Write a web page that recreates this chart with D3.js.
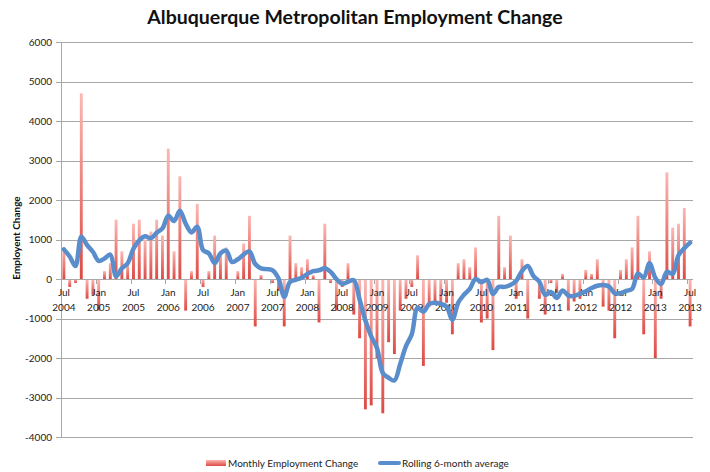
<!DOCTYPE html>
<html>
<head>
<meta charset="utf-8">
<script src="https://cdn.jsdelivr.net/npm/d3@7"></script>
<style>
  body { margin: 0; background: #fff; }
  text { font-family: Lato, "Open Sans", sans-serif; }
</style>
</head>
<body>
<div id="chart"></div>
<script>
// monthly change, Jul 2004 .. Jul 2013
var monthly = [
  800, -200, -100, 4700, -500, -400,
  -800, 200, 400, 1500, 700, 400,
  1400, 1500, 1000, 1200, 1500, 1100,
  3300, 700, 2600, -800, 200, 1900,
  -200, 200, 1100, 700, 800, 0,
  200, 900, 1600, -1200, 100, 0,
  -100, -300, -1200, 1100, 400, 300,
  500, 100, -1100, 1400, -100, -800,
  -200, 400, -900, -1500, -3300, -3200,
  -2000, -3400, -1600, -1900, -800, -500,
  -200, 600, -2200, -700, -600, -700,
  -600, -1400, 400, 500, 300, 800,
  -1100, -1000, -1800, 1600, 300, 1100,
  -500, 500, -1000, 0, -500, -900,
  -100, -350, 130, -800, -570, -500,
  230, 130, 500, -700, -800, -1500,
  230, 500, 800, 1600, -1400, 700,
  -2000, -500, 2700, 1300, 1400, 1800,
  -1200
];

// rolling 6-month average as drawn
var rolling = [
  750, 570, 330, 1070, 860, 690,
  460, 520, 620, 70, 270, 400,
  770, 980, 1080, 1030, 1170, 1280,
  1600, 1470, 1730, 1400, 1180, 1320,
  730, 650, 400, 650, 720, 430,
  500, 620, 700, 380, 270, 250,
  220, 20, -450, -70, -20, 30,
  130, 200, 220, 270, 180, 0,
  -120, -70, -30, -520, -1050, -1450,
  -1750, -2380, -2500, -2570, -2150, -1700,
  -1400, -730, -830, -630, -600, -630,
  -700, -1030, -600, -400, -250, 0,
  -80, -20, -380, -200, -200, -150,
  -50, 200, 330, 70, -70, -400,
  -330, -480, -290, -420, -430, -370,
  -310, -230, -170, -150, -190, -360,
  -360, -300, -250, 140, 40, 400,
  30, -130, 180, 130, 600, 780,
  920
];

var yTicks = [-4000, -3000, -2000, -1000, 0, 1000, 2000, 3000, 4000, 5000, 6000];
var firstMonth = new Date(2004, 6, 1);
var seriesNames = ["Monthly Employment Change", "Rolling 6-month average"];

function draw() {
  var width = 710, height = 472;
  var plotLeft = 61, plotRight = 693, plotTop = 42, plotBottom = 437;

  var months = d3.timeMonth.range(firstMonth, d3.timeMonth.offset(firstMonth, monthly.length));

  var x = d3.scaleBand()
    .domain(months)
    .range([plotLeft, plotRight])
    .paddingInner(0.5)
    .paddingOuter(0.25);

  var y = d3.scaleLinear()
    .domain([-4000, 6000])
    .range([plotBottom, plotTop]);

  var svg = d3.select("#chart").append("svg")
    .attr("width", width)
    .attr("height", height);

  var grad = svg.append("defs").append("linearGradient")
    .attr("id", "barFill")
    .attr("x1", 0).attr("y1", 0).attr("x2", 0).attr("y2", 1);
  grad.append("stop").attr("offset", "0%").attr("stop-color", "#fbb8b3");
  grad.append("stop").attr("offset", "100%").attr("stop-color", "#de4a44");

  // gridlines
  svg.append("g")
    .selectAll("line")
    .data(yTicks)
    .enter().append("line")
    .attr("x1", plotLeft - 5)
    .attr("x2", plotRight)
    .attr("y1", function (d) { return Math.round(y(d)) + 0.5; })
    .attr("y2", function (d) { return Math.round(y(d)) + 0.5; })
    .style("stroke", "#a8a8a8")
    .style("stroke-width", 1);

  // y axis line
  svg.append("line")
    .attr("x1", plotLeft + 0.5).attr("x2", plotLeft + 0.5)
    .attr("y1", plotTop).attr("y2", plotBottom + 1)
    .style("stroke", "#a8a8a8");

  // y labels
  svg.append("g")
    .selectAll("text")
    .data(yTicks)
    .enter().append("text")
    .attr("x", 52)
    .attr("y", function (d) { return y(d); })
    .attr("dy", "0.35em")
    .attr("text-anchor", "end")
    .style("font-size", "10px")
    .style("fill", "#222")
    .text(function (d) { return d; });

  // bars
  svg.append("g")
    .selectAll("rect")
    .data(monthly)
    .enter().append("rect")
    .attr("x", function (d, i) { return x(months[i]); })
    .attr("width", x.bandwidth())
    .attr("y", function (d) { return y(Math.max(0, d)); })
    .attr("height", function (d) { return Math.abs(y(d) - y(0)); })
    .attr("fill", "url(#barFill)");

  // zero line + ticks every six months
  var labelMonths = months.filter(function (m) { return m.getMonth() === 0 || m.getMonth() === 6; });

  svg.append("line")
    .attr("x1", plotLeft).attr("x2", plotRight)
    .attr("y1", Math.round(y(0)) + 0.5).attr("y2", Math.round(y(0)) + 0.5)
    .style("stroke", "#a8a8a8");

  svg.append("g")
    .selectAll("line")
    .data(labelMonths)
    .enter().append("line")
    .attr("x1", function (d) { return Math.round(x(d) - x.step() * 0.25) + 0.5; })
    .attr("x2", function (d) { return Math.round(x(d) - x.step() * 0.25) + 0.5; })
    .attr("y1", y(0))
    .attr("y2", y(0) + 5)
    .style("stroke", "#a8a8a8");

  var fmtMonth = d3.timeFormat("%b"), fmtYear = d3.timeFormat("%Y");
  var xl = svg.append("g")
    .selectAll("text")
    .data(labelMonths)
    .enter().append("text")
    .attr("x", function (d) { return x(d) + x.bandwidth() / 2; })
    .attr("y", y(0) + 17)
    .attr("text-anchor", "middle")
    .style("font-size", "10px")
    .style("fill", "#222");
  xl.append("tspan").text(function (d) { return fmtMonth(d); });
  xl.append("tspan")
    .attr("x", function (d) { return x(d) + x.bandwidth() / 2; })
    .attr("dy", "1.45em")
    .text(function (d) { return fmtYear(d); });

  // rolling average line
  var line = d3.line()
    .x(function (d, i) { return x(months[i]) + x.bandwidth() / 2; })
    .y(function (d) { return y(d); })
    .curve(d3.curveCatmullRom.alpha(0.5));

  svg.append("path")
    .datum(rolling)
    .attr("d", line)
    .style("fill", "none")
    .style("stroke", "#5a8dcb")
    .style("stroke-width", 4.5)
    .style("stroke-linejoin", "round")
    .style("stroke-linecap", "round");

  // title
  svg.append("text")
    .attr("x", 355)
    .attr("y", 24)
    .attr("text-anchor", "middle")
    .style("font-size", "19.5px")
    .style("font-weight", "bold")
    .style("fill", "#111")
    .text("Albuquerque Metropolitan Employment Change");

  // y axis title
  svg.append("text")
    .attr("transform", "translate(20,238) rotate(-90)")
    .attr("text-anchor", "middle")
    .style("font-size", "10px")
    .style("font-weight", "bold")
    .style("fill", "#111")
    .text("Employent Change");

  // legend
  var lg = svg.append("g");
  lg.append("rect")
    .attr("x", 206).attr("y", 460)
    .attr("width", 20).attr("height", 6)
    .attr("fill", "url(#barFill)");
  lg.append("text")
    .attr("x", 228).attr("y", 467)
    .style("font-size", "10px")
    .style("fill", "#222")
    .text(seriesNames[0]);
  lg.append("line")
    .attr("x1", 380).attr("x2", 399)
    .attr("y1", 463).attr("y2", 463)
    .style("stroke", "#5a8dcb")
    .style("stroke-width", 4)
    .style("stroke-linecap", "round");
  lg.append("text")
    .attr("x", 402).attr("y", 467)
    .style("font-size", "10px")
    .style("fill", "#222")
    .text(seriesNames[1]);
}

draw();
</script>
</body>
</html>
